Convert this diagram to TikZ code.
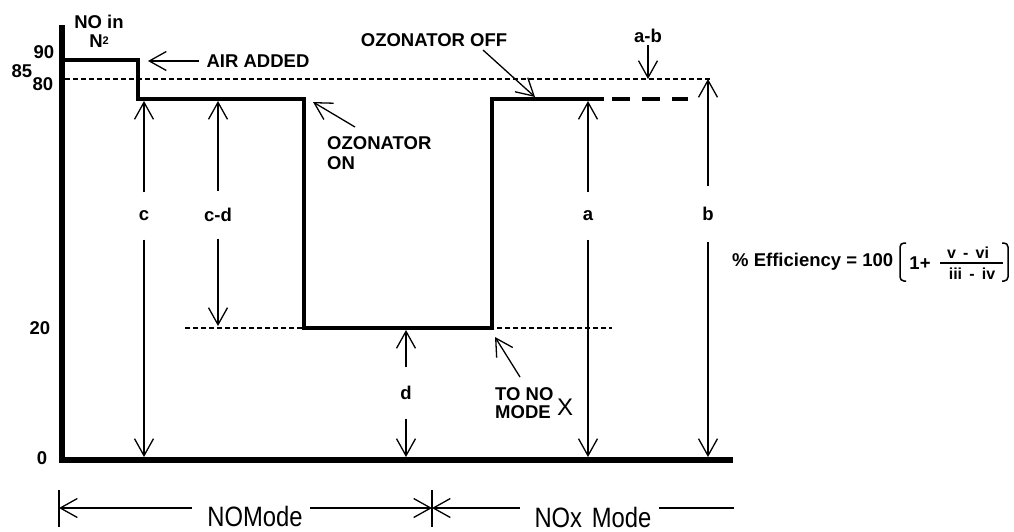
\documentclass[tikz,border=0pt]{standalone}
\usepackage{fontspec}
\setmainfont{Liberation Sans}
\newfontfamily\modefont[FakeStretch=0.85]{Liberation Sans}
\usepackage{tikz}
\usetikzlibrary{arrows.meta,calc,positioning}

\tikzset{
  lbl/.style={font=\fontsize{18.5}{19}\selectfont\bfseries,inner sep=2pt},
  gaplbl/.style={lbl,inner sep=0pt,minimum height=#1},
  gaplbl/.default=47pt,
  signal/.style={line width=4pt},
  axisline/.style={line width=6pt},
  guide/.style={line width=1.2pt,dash pattern=on 5pt off 3pt},
  thinline/.style={line width=1.3pt},
  dim/.style={thinline,-{Straight Barb[length=17pt,width=19pt,line width=1.3pt]}},
  modelbl/.style={font=\modefont\fontsize{28}{28}\selectfont,inner sep=0pt},
}

\begin{document}
\begin{tikzpicture}[x=1pt,y=-1pt]
  \useasboundingbox (0,0) rectangle (1014,531);
  % axes
  \draw[axisline] (62,25) -- (62,463);
  \draw[axisline] (59,460) -- (733,460);
  \draw[guide] (65,79) -- (712,79);
  \draw[guide] (185,328) -- (612,328);
  % signal trace
  \draw[signal] (65,60) -- (138,60) -- (138,99) -- (304,99) -- (304,328)
    -- (492,328) -- (492,99) -- (604,99);
  \draw[signal,dash pattern=on 18pt off 12pt] (612,99) -- (688,99);
  % axis labels
  \node[lbl] (y90) at (44,52) {90};
  \node[lbl] (y85) at (22,71) {85};
  \node[lbl] (y80) at (43,84) {80};
  \node[lbl] (y20) at (40,328) {20};
  \node[lbl] (y0) at (42,458) {0};
  \node[lbl,align=center] (ylab) at (99,31)
    {NO in\\N\raisebox{3pt}{\fontsize{11}{11}\selectfont 2}};
  % events
  \node[lbl] (air) at (258,61) {AIR ADDED};
  \coordinate (airtip) at (148,61);
  \draw[dim,shorten <=5pt] (air.west) -- (airtip);
  \node[lbl] (ozoff) at (434,40) {OZONATOR OFF};
  \coordinate (offtail) at (483,50);
  \coordinate (offtip) at (535,97);
  \draw[dim] (offtail) -- (offtip);
  \node[lbl,align=left,anchor=west,font=\fontsize{18.5}{20}\selectfont\bfseries]
    (ozon) at (325,153) {OZONATOR\\ON};
  \coordinate (ontail) at (355,127);
  \coordinate (ontip) at (313,102);
  \draw[dim] (ontail) -- (ontip);
  \node[lbl,align=left,anchor=west,font=\fontsize{18.5}{18}\selectfont\bfseries]
    (tono) at (493,403) {TO NO\\MODE};
  \node[font=\fontsize{24}{24}\selectfont,inner sep=0pt] (xlab) at (565,407) {X};
  \coordinate (totail) at (520,377);
  \coordinate (totip) at (495,337);
  \draw[dim] (totail) -- (totip);
  \node[lbl] (ab) at (648,36) {a-b};
  \coordinate (abtip) at (648,79);
  \draw[dim] (ab) -- (abtip);
  % dimension arrows
  \coordinate (cT) at (144,101);
  \coordinate (cB) at (144,457);
  \node[gaplbl] (c) at (144,216) {c};
  \draw[dim] (c) -- (cT);
  \draw[dim] (c) -- (cB);
  \coordinate (cdT) at (218,101);
  \coordinate (cdB) at (218,326);
  \node[gaplbl] (cd) at (218,215) {c-d};
  \draw[dim] (cd) -- (cdT);
  \draw[dim] (cd) -- (cdB);
  \coordinate (dT) at (406,330);
  \coordinate (dB) at (406,457);
  \node[gaplbl=51pt] (d) at (406,393) {d};
  \draw[dim] (d) -- (dT);
  \draw[dim] (d) -- (dB);
  \coordinate (aT) at (588,101);
  \coordinate (aB) at (588,457);
  \node[gaplbl] (a) at (588,216) {a};
  \draw[dim] (a) -- (aT);
  \draw[dim] (a) -- (aB);
  \coordinate (bT) at (708,79);
  \coordinate (bB) at (708,457);
  \node[gaplbl=55pt] (b) at (708,214) {b};
  \draw[dim] (b) -- (bT);
  \draw[dim] (b) -- (bB);
  % efficiency formula
  \node[lbl,anchor=west] (eff) at (730,262) {\% Efficiency = 100};
  \node[lbl] (one) at (920,263) {1+};
  \node[lbl,font=\fontsize{16}{16}\selectfont\bfseries] (num) at (968,253)
    {v\hspace{0.45em}-\hspace{0.45em}vi};
  \node[lbl,font=\fontsize{16}{16}\selectfont\bfseries] (den) at (972,274)
    {iii\hspace{0.45em}-\hspace{0.45em}iv};
  \draw[thinline] (940,263) -- (1003,263);
  \draw[line width=1.5pt,rounded corners=4pt] (906,243) -- (900,243) -- (900,281) -- (906,281);
  \draw[line width=1.5pt,rounded corners=4pt] (1002,243) -- (1008,243) -- (1008,281) -- (1002,281);
  % mode spans
  \draw[thinline] (59,490) -- (59,527);
  \draw[thinline] (432,490) -- (432,527);
  \coordinate (L0) at (59,508);
  \coordinate (L1) at (192,508);
  \coordinate (L2) at (310,508);
  \coordinate (M) at (432,508);
  \coordinate (R1) at (520,508);
  \coordinate (R2) at (659,508);
  \coordinate (R3) at (734,508);
  \node[modelbl] (nomode) at (255,516) {NOMode};
  \node[modelbl] (noxmode) at (593,517) {NOx\hspace{0.35em}Mode};
  \draw[dim] (L1) -- (L0);
  \draw[dim] (L2) -- (M);
  \draw[dim] (R1) -- (M);
  \draw[thinline] (R2) -- (R3);
\end{tikzpicture}
\end{document}
